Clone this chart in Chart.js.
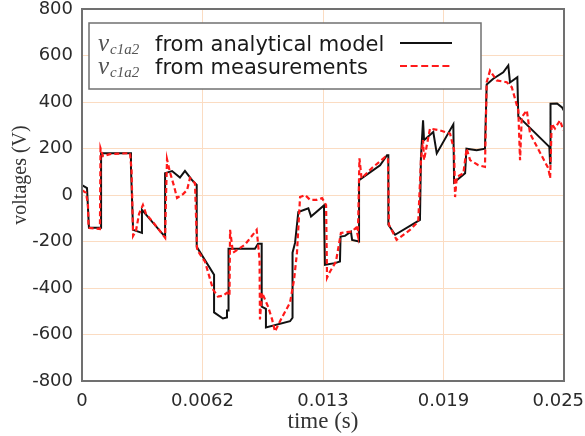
<!DOCTYPE html>
<html lang="en">
<head>
    <meta charset="UTF-8">
    <title>Voltages vc1a2</title>
    <script src="https://cdn.jsdelivr.net/npm/chart.js@4.4.0/dist/chart.umd.min.js"></script>
    <style>
        body {
            margin: 0;
            background: #ffffff;
        }
        #chart-box {
            width: 585px;
            height: 436px;
        }
    </style>
</head>
<body>
    <div id="chart-box">
        <canvas id="volt-chart" width="585" height="436"></canvas>
    </div>

    <script>
        // analytical model: time (s) and voltage (V)
        const modelTime = [0, 0.00026, 0.00036, 0.00099, 0.00099, 0.00254, 0.00254, 0.00265, 0.00311, 0.00311,
            0.00431, 0.00431, 0.00467, 0.00508, 0.00534, 0.00571, 0.00595, 0.00595, 0.00685, 0.00685,
            0.00731, 0.00752, 0.00752, 0.00760, 0.00760, 0.00897, 0.00913, 0.00932, 0.00932, 0.00954,
            0.00954, 0.01079, 0.01092, 0.01092, 0.01105, 0.01122, 0.01174, 0.01188, 0.01255, 0.01260,
            0.01312, 0.01338, 0.01341, 0.01364, 0.01395, 0.01401, 0.01437, 0.01437, 0.01546, 0.01582,
            0.01589, 0.01589, 0.01624, 0.01753, 0.01758, 0.01769, 0.01774, 0.01822, 0.01840, 0.01926,
            0.01930, 0.01987, 0.01994, 0.02047, 0.02090, 0.02099, 0.02133, 0.02185, 0.02211, 0.02220,
            0.02258, 0.02263, 0.02424, 0.02428, 0.02430, 0.02464, 0.02490, 0.02498];
        const modelVolt = [43, 30, -141, -141, 180, 180, 116, -150, -163, -64,
            -180, 94, 103, 75, 104, 64, 43, -223, -343, -505,
            -531, -527, -497, -497, -231, -231, -210, -210, -480, -490,
            -570, -543, -528, -248, -206, -73, -57, -93, -45, -300,
            -293, -286, -179, -176, -158, -193, -200, 64, 128, 171,
            171, -128, -171, -107, 163, 321, 236, 271, 179, 304,
            54, 93, 199, 193, 199, 475, 500, 528, 557, 484,
            507, 338, 207, 136, 393, 394, 377, 364];

        // measurements: time (s) and voltage (V)
        const measTime = [0, 0.00021, 0.00031, 0.00034, 0.00093, 0.00096, 0.00109, 0.00145, 0.00249, 0.00257,
            0.00265, 0.00280, 0.00296, 0.00316, 0.00332, 0.00379, 0.00431, 0.00436, 0.00441, 0.00456,
            0.00477, 0.00493, 0.00524, 0.00545, 0.00560, 0.00586, 0.00597, 0.00638, 0.00680, 0.00705,
            0.00731, 0.00752, 0.00765, 0.00768, 0.00783, 0.00845, 0.00906, 0.00921, 0.00923, 0.00934,
            0.00965, 0.00986, 0.01001, 0.01037, 0.01079, 0.01100, 0.01115, 0.01131, 0.01157, 0.01183,
            0.01217, 0.01245, 0.01266, 0.01271, 0.01286, 0.01317, 0.01343, 0.01399, 0.01421, 0.01431,
            0.01439, 0.01450, 0.01504, 0.01572, 0.01587, 0.01592, 0.01632, 0.01701, 0.01744, 0.01758,
            0.01769, 0.01774, 0.01805, 0.01857, 0.01909, 0.01930, 0.01935, 0.01944, 0.01978, 0.01995,
            0.02013, 0.02056, 0.02090, 0.02099, 0.02116, 0.02151, 0.02203, 0.02229, 0.02263, 0.02272,
            0.02281, 0.02307, 0.02324, 0.02419, 0.02428, 0.02436, 0.02453, 0.02479, 0.02497];
        const measVolt = [21, 9, -43, -141, -146, 201, 167, 176, 180, 107,
            -176, -154, -81, -43, -81, -128, -184, 0, 154, 99,
            39, -13, 4, 21, 73, 51, -236, -287, -407, -437,
            -433, -420, -433, -150, -248, -214, -150, -278, -535, -420,
            -480, -535, -587, -527, -463, -364, -248, -9, 0, -21,
            -21, -13, -43, -356, -330, -287, -163, -157, -141, -176,
            158, 72, 116, 163, 158, -128, -193, -150, -114, 150,
            236, 150, 286, 278, 264, 193, -9, 78, 93, 200,
            150, 128, 121, 485, 535, 493, 485, 464, 364, 150,
            335, 364, 264, 114, 72, 307, 286, 321, 278];

        // axis ticks
        const xTickValues = [0, 0.00625, 0.0125, 0.01875, 0.025];
        const xTickLabels = ['0', '0.0062', '0.013', '0.019', '0.025\u2007'];
        const yTickValues = [-800, -600, -400, -200, 0, 200, 400, 600, 800];

        const gridColor = '#fbdcc2';
        const frameColor = '#707070';

        function toPoints(xs, ys) {
            return xs.map((x, i) => ({ x: x, y: ys[i] }));
        }

        // frame round the plot area and the legend box (line sample on the right)
        const framePlugin = {
            id: 'frameAndLegend',
            afterDatasetsDraw(chart) {
                const { ctx, chartArea } = chart;
                ctx.save();
                ctx.strokeStyle = frameColor;
                ctx.lineWidth = 2;
                ctx.strokeRect(chartArea.left, chartArea.top, chartArea.right - chartArea.left, chartArea.bottom - chartArea.top);

                const bx = chartArea.left + 7;
                const by = chartArea.top + 14;
                ctx.fillStyle = '#ffffff';
                ctx.fillRect(bx, by, 392, 66);
                ctx.lineWidth = 1.5;
                ctx.strokeRect(bx, by, 392, 66);

                const rows = [
                    { text: 'from analytical model', color: '#111111', dash: [] },
                    { text: 'from measurements', color: '#ff1a1a', dash: [7, 3.6] }
                ];
                rows.forEach((row, i) => {
                    const base = by + 28 + i * 23;
                    ctx.fillStyle = '#555555';
                    ctx.textBaseline = 'alphabetic';
                    ctx.textAlign = 'left';
                    ctx.font = 'italic 25px "Liberation Serif"';
                    ctx.fillText('v', bx + 9, base);
                    ctx.font = 'italic 15px "Liberation Serif"';
                    ctx.fillText('c1a2', bx + 21, base + 3);
                    ctx.fillStyle = '#1a1a1a';
                    ctx.font = '21px "DejaVu Sans"';
                    ctx.fillText(row.text, bx + 66, base);

                    ctx.strokeStyle = row.color;
                    ctx.lineWidth = 2;
                    ctx.setLineDash(row.dash);
                    ctx.beginPath();
                    ctx.moveTo(bx + 311, base - 8);
                    ctx.lineTo(bx + 363, base - 8);
                    ctx.stroke();
                    ctx.setLineDash([]);
                });
                ctx.restore();
            }
        };

        const ctx = document.getElementById('volt-chart').getContext('2d');
        const voltChart = new Chart(ctx, {
            type: 'line',
            data: {
                datasets: [
                    {
                        label: 'vc1a2 from measurements',
                        data: toPoints(measTime, measVolt),
                        borderColor: '#ff1a1a',
                        borderWidth: 2.2,
                        borderDash: [5, 3],
                        pointRadius: 0,
                        tension: 0,
                        fill: false,
                        order: 0
                    },
                    {
                        label: 'vc1a2 from analytical model',
                        data: toPoints(modelTime, modelVolt),
                        borderColor: '#111111',
                        borderWidth: 2,
                        pointRadius: 0,
                        tension: 0,
                        fill: false,
                        order: 1
                    }
                ]
            },
            options: {
                responsive: false,
                animation: false,
                layout: {
                    padding: { top: 9, right: 21, bottom: 0, left: 0 }
                },
                plugins: {
                    legend: { display: false },
                    tooltip: { enabled: false }
                },
                scales: {
                    x: {
                        type: 'linear',
                        min: 0,
                        max: 0.025,
                        afterBuildTicks(scale) {
                            scale.ticks = xTickValues.map(v => ({ value: v }));
                        },
                        afterFit(scale) {
                            scale.height = 55;
                            scale.paddingLeft = 0;
                            scale.paddingRight = 0;
                        },
                        grid: {
                            color: gridColor,
                            lineWidth: 1,
                            drawTicks: false
                        },
                        border: { display: false },
                        ticks: {
                            maxRotation: 0,
                            padding: 10,
                            color: '#2a2a2a',
                            font: { family: '"DejaVu Sans"', size: 18 },
                            callback: (value, index) => xTickLabels[index]
                        },
                        title: {
                            display: true,
                            text: 'time (s)',
                            color: '#333333',
                            font: { family: '"Liberation Serif"', size: 23 },
                            padding: { top: 0, bottom: 0 }
                        }
                    },
                    y: {
                        min: -800,
                        max: 800,
                        afterBuildTicks(scale) {
                            scale.ticks = yTickValues.map(v => ({ value: v }));
                        },
                        afterFit(scale) {
                            scale.width = 82;
                            scale.paddingTop = 0;
                            scale.paddingBottom = 0;
                        },
                        grid: {
                            color: gridColor,
                            lineWidth: 1,
                            drawTicks: false
                        },
                        border: { display: false },
                        ticks: {
                            padding: 9,
                            color: '#2a2a2a',
                            font: { family: '"DejaVu Sans"', size: 18 },
                            callback: value => String(value)
                        },
                        title: {
                            display: true,
                            text: '\u2003\u2003voltages (V)',
                            color: '#333333',
                            font: { family: '"Liberation Serif"', size: 20 },
                            padding: { top: 9, bottom: 0 }
                        }
                    }
                }
            },
            plugins: [framePlugin]
        });
    </script>
</body>
</html>
